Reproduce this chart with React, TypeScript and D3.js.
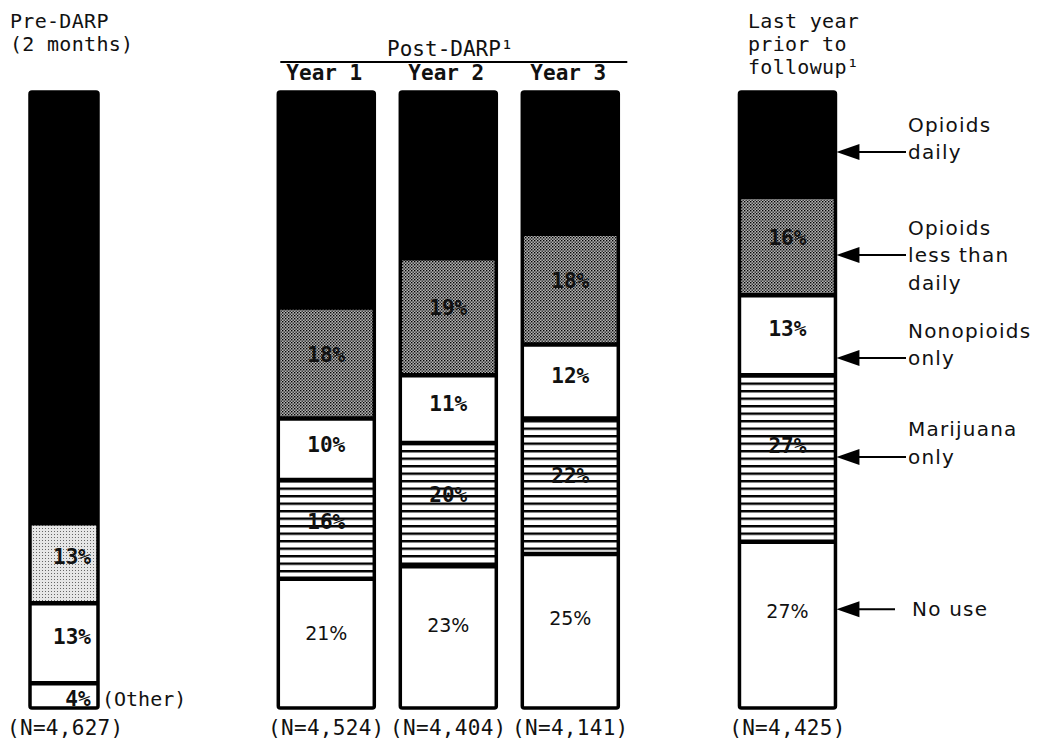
import React from "react";
import * as d3 from "d3";

// ---- data ----
const periods = ["pre", "y1", "y2", "y3", "last"];
const nLabels = ["(N=4,627)", "(N=4,524)", "(N=4,404)", "(N=4,141)", "(N=4,425)"];
const opioidsDaily = [70, 35, 27, 23, 17];
const opioidsLessDaily = [13, 18, 19, 18, 16];
const nonopioidsOnly = [13, 10, 11, 12, 13];
const marijuanaOnly = [0, 16, 20, 22, 27];
const noUse = [0, 21, 23, 25, 27];
const otherUse = [4, 0, 0, 0, 0];
const legendLabels = [
  ["Opioids", "daily"],
  ["Opioids", "less than", "daily"],
  ["Nonopioids", "only"],
  ["Marijuana", "only"],
  ["No use"],
];
const yearLabels = ["Year 1", "Year 2", "Year 3"];

const keys = ["other", "noUse", "marijuana", "nonopioids", "lessDaily", "daily"];

export default function App() {
  const W = 1038, H = 744;
  const top = 92, bottom = 708;
  const y = d3.scaleLinear().domain([0, 100]).range([bottom, top]);

  // layout: column centers via a linear scale over layout slots
  const slot = d3.scaleLinear().domain([0, 1]).range([64, 186]);
  const slotIndex: Record<string, number> = { pre: 0, y1: 2.15, y2: 3.15, y3: 4.15, last: 5.93 };
  const widthOf = (p: string) => (p === "pre" ? 68 : 96);

  const rows = periods.map((p, i) => ({
    period: p,
    daily: opioidsDaily[i],
    lessDaily: opioidsLessDaily[i],
    nonopioids: nonopioidsOnly[i],
    marijuana: marijuanaOnly[i],
    noUse: noUse[i],
    other: otherUse[i],
  }));
  const stack = d3.stack<any>().keys(keys).order(d3.stackOrderNone).offset(d3.stackOffsetNone);
  const series = stack(rows);

  const fillFor = (key: string, period: string) => {
    if (key === "daily") return "#000";
    if (key === "lessDaily") return period === "pre" ? "url(#stippleLight)" : "url(#stipple)";
    if (key === "marijuana") return "url(#hlines)";
    return "#fff";
  };

  const mono = "'DejaVu Sans Mono', 'Liberation Mono', monospace";
  const sans = "'DejaVu Sans', 'Liberation Sans', sans-serif";

  const legendArrowLine = [1, 1, 1, 1, 0];
  const legendY = d3.scaleLinear().domain([0, 1]).range([152, 255]);
  const legendAnchors = [0, 1, 2.0, 2.96, 4.44];

  const lastCx = slot(slotIndex.last);
  const lastRight = lastCx + widthOf("last") / 2;

  const y1c = slot(slotIndex.y1), y3c = slot(slotIndex.y3);

  return (
    <svg width={W} height={H} style={{ position: "absolute", left: 0, top: 0, background: "#fff" }}>
      <defs>
        <pattern id="stipple" width="3" height="3" patternUnits="userSpaceOnUse">
          <rect width="3" height="3" fill="#b4b4b4" />
          <rect x="0" y="0" width="1.4" height="1.4" fill="#000" />
          <rect x="1.5" y="1.5" width="1.4" height="1.4" fill="#222" />
        </pattern>
        <pattern id="stippleLight" width="3" height="3" patternUnits="userSpaceOnUse">
          <rect width="3" height="3" fill="#e6e6e6" />
          <rect x="0" y="0" width="1" height="1" fill="#666" />
        </pattern>
        <pattern id="hlines" width="8" height="7.5" patternUnits="userSpaceOnUse">
          <rect width="8" height="7.5" fill="#fff" />
          <rect y="0" width="8" height="2.4" fill="#000" />
        </pattern>
      </defs>

      {/* segments */}
      {series.map((s) =>
        s.map((d: any, i: number) => {
          const p = periods[i];
          const v = d[1] - d[0];
          if (v <= 0) return null;
          const cx = slot(slotIndex[p]);
          const w = widthOf(p);
          return (
            <rect
              key={s.key + p}
              x={cx - w / 2}
              y={y(d[1])}
              width={w}
              height={y(d[0]) - y(d[1])}
              fill={fillFor(s.key, p)}
            />
          );
        })
      )}

      {/* separators */}
      {series.map((s) =>
        s.map((d: any, i: number) => {
          const p = periods[i];
          const v = d[1] - d[0];
          if (v <= 0 || d[0] <= 0) return null;
          const cx = slot(slotIndex[p]);
          const w = widthOf(p);
          return (
            <line
              key={"sep" + s.key + p}
              x1={cx - w / 2}
              x2={cx + w / 2}
              y1={y(d[0])}
              y2={y(d[0])}
              stroke="#000"
              strokeWidth={4.5}
            />
          );
        })
      )}

      {/* outlines */}
      {periods.map((p) => {
        const cx = slot(slotIndex[p]);
        const w = widthOf(p);
        return (
          <rect key={"o" + p} x={cx - w / 2} y={y(100)} width={w} height={y(0) - y(100)}
            fill="none" stroke="#000" strokeWidth={3.5} rx={2} />
        );
      })}

      {/* value labels */}
      {series.map((s) =>
        s.map((d: any, i: number) => {
          const p = periods[i];
          const v = d[1] - d[0];
          if (v <= 0 || s.key === "daily") return null;
          const cx = slot(slotIndex[p]);
          const yy = y(d[1]) + (y(d[0]) - y(d[1])) * (s.key === "other" ? 0.62 : 0.42);
          const isNoUse = s.key === "noUse";
          const dx = p === "pre" ? (s.key === "other" ? 14 : 8) : 0;
          return (
            <text
              key={"l" + s.key + p}
              x={cx + dx}
              y={yy}
              dy="0.35em"
              textAnchor="middle"
              fontFamily={isNoUse ? sans : mono}
              fontWeight={isNoUse ? "normal" : "bold"}
              fontSize={isNoUse ? 19 : 21}
              fill="#111"
            >
              {v}%
            </text>
          );
        })
      )}

      {/* (Other) */}
      <text x={slot(0) + widthOf("pre") / 2 + 4} y={y(otherUse[0] * 0.38)} dy="0.35em"
        fontFamily={mono} fontSize={20} fill="#111">(Other)</text>

      {/* N labels */}
      {periods.map((p, i) => (
        <text key={"n" + p} x={p === "pre" ? 7 : slot(slotIndex[p])} y={735}
          textAnchor={p === "pre" ? "start" : "middle"} fontFamily={mono} fontSize={21}
          letterSpacing={0.3} fill="#111">
          {nLabels[i]}
        </text>
      ))}

      {/* headers */}
      <text x={10} y={28} fontFamily={mono} fontSize={20} letterSpacing={0.3} fill="#111">Pre-DARP</text>
      <text x={10} y={51} fontFamily={mono} fontSize={20} letterSpacing={0.3} fill="#111">(2 months)</text>

      <text x={(y1c + y3c) / 2 + 2} y={56} textAnchor="middle" fontFamily={mono} fontSize={21} fill="#111">Post-DARP¹</text>
      <line x1={y1c - 46} x2={y3c + 57} y1={62} y2={62} stroke="#000" strokeWidth={2} />
      {["y1", "y2", "y3"].map((p, i) => (
        <text key={"yr" + p} x={slot(slotIndex[p]) - 2} y={80} textAnchor="middle" fontFamily={mono}
          fontWeight="bold" fontSize={21} fill="#111">{yearLabels[i]}</text>
      ))}

      <text x={748} y={28} fontFamily={mono} fontSize={20} letterSpacing={0.3} fill="#111">Last year</text>
      <text x={748} y={51} fontFamily={mono} fontSize={20} letterSpacing={0.3} fill="#111">prior to</text>
      <text x={748} y={74} fontFamily={mono} fontSize={20} letterSpacing={0.3} fill="#111">followup¹</text>

      {/* legend */}
      {legendLabels.map((lines, k) => {
        const ay = legendY(legendAnchors[k]);
        const lineIdx = legendArrowLine[k];
        const single = lines.length === 1;
        return (
          <g key={"lg" + k}>
            <path d={`M${lastRight + 1},${ay} L${lastRight + 24},${ay - 8} L${lastRight + 24},${ay + 8} Z`} fill="#000" />
            <line x1={lastRight + 22} x2={single ? 895 : 906} y1={ay} y2={ay} stroke="#000" strokeWidth={2} />
            {lines.map((t, j) => (
              <text key={j} x={single ? 912 : 908} y={ay + (j - lineIdx) * 27.5} dy="0.35em"
                fontFamily={sans} fontSize={20} letterSpacing={1.2} fill="#111">{t}</text>
            ))}
          </g>
        );
      })}
    </svg>
  );
}
